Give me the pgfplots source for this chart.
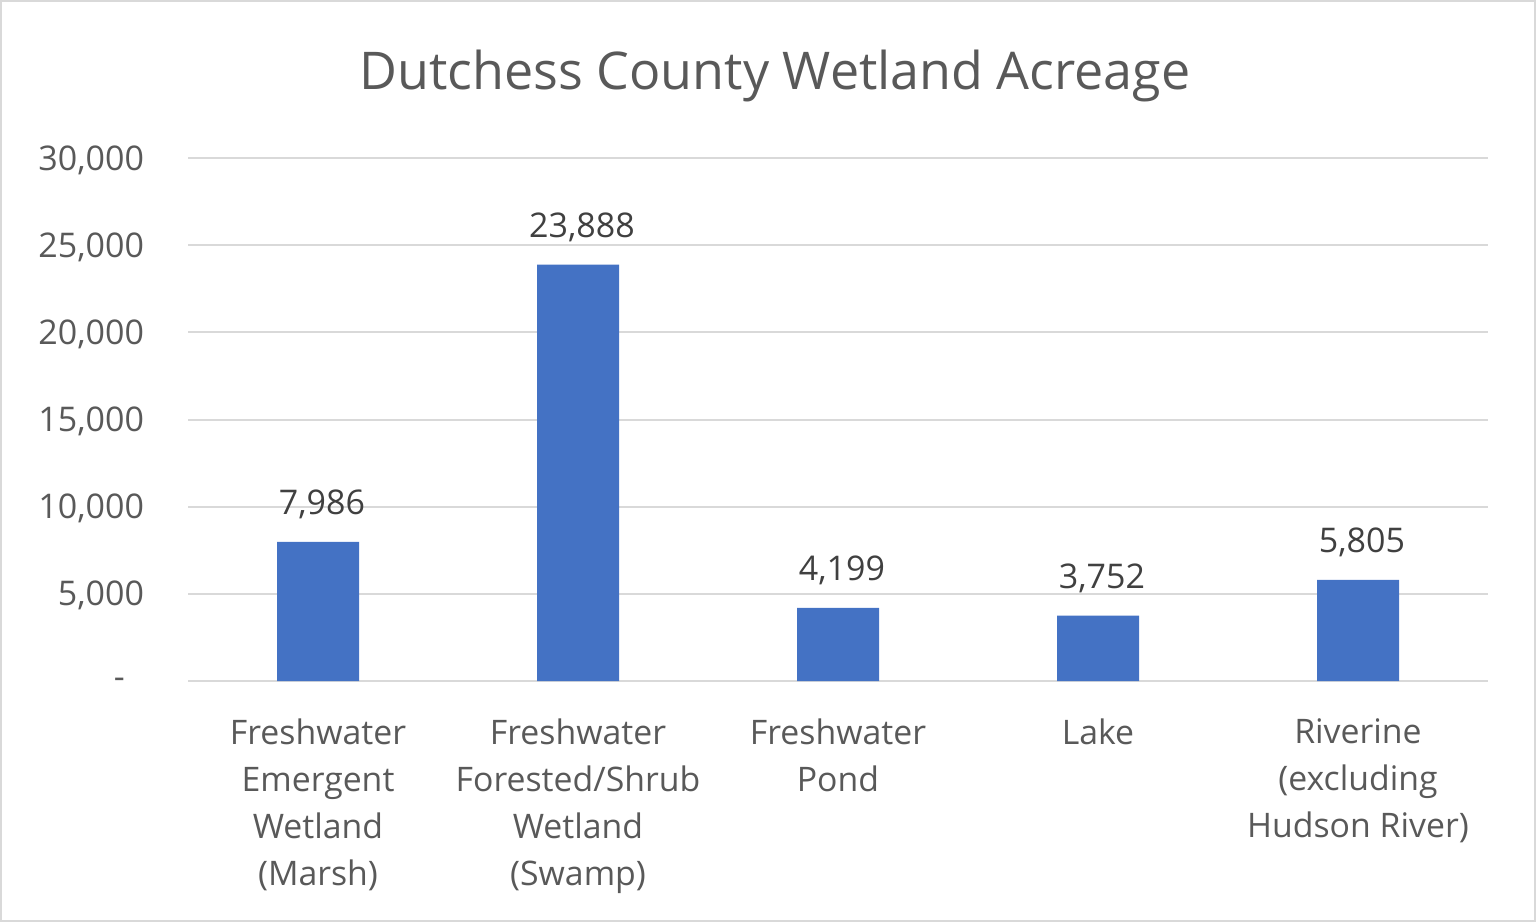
\documentclass[border=0pt]{standalone}
\usepackage{pgfplots}
\pgfplotsset{compat=1.18}
\usepackage{fontspec}
\setmainfont{Open Sans}
\definecolor{barblue}{HTML}{4472C4}
\definecolor{txtgray}{HTML}{595959}
\definecolor{lblgray}{HTML}{404040}
\definecolor{gridgray}{HTML}{D9D9D9}
\begin{document}
\begin{tikzpicture}
\draw[gridgray, line width=1pt] (0.5pt,0.5pt) rectangle (767.5pt,460.5pt);
\node[text=txtgray, font=\fontsize{26}{30}\selectfont] at (387.5pt,423pt) {Dutchess County Wetland Acreage};
\begin{axis}[
  at={(94pt,120.5pt)}, anchor=south west,
  scale only axis, width=650pt, height=261.5pt,
  xmin=-0.5, xmax=4.5, ymin=0, ymax=30000,
  scaled y ticks=false,
  axis line style={draw=none},
  axis x line*=bottom,
  x axis line style={draw=gridgray, line width=1pt},
  ytick={0,5000,10000,15000,20000,25000,30000},
  yticklabels={{\makebox[15pt][l]{-}},{5,000},{10,000},{15,000},{20,000},{25,000},{30,000}},
  ymajorgrids, grid style={gridgray, line width=1pt},
  major tick length=0pt,
  xtick={0,1,2,3,4},
  xticklabels={{Freshwater\\Emergent\\Wetland\\(Marsh)},{Freshwater\\Forested/Shrub\\Wetland\\(Swamp)},{Freshwater\\Pond},{Lake},{Riverine\\(excluding\\Hudson River)}},
  xticklabel style={align=center, text=txtgray, font=\fontsize{16.9}{23.5}\selectfont, anchor=north, yshift=-15.5pt},
  yticklabel style={text=txtgray, font=\fontsize{17}{20}\selectfont, xshift=-18.5pt, yshift=-1pt},
  ybar, bar width=41pt,
  nodes near coords,
  nodes near coords style={text=lblgray, font=\fontsize{17}{20}\selectfont, /pgf/number format/1000 sep={,}, /pgf/number format/assume math mode=true, yshift=8pt, xshift=2pt},
]
\addplot[fill=barblue, draw=none] coordinates {(0,7986) (1,23888) (2,4199) (3,3752) (4,5805)};
\end{axis}
\end{tikzpicture}
\end{document}
